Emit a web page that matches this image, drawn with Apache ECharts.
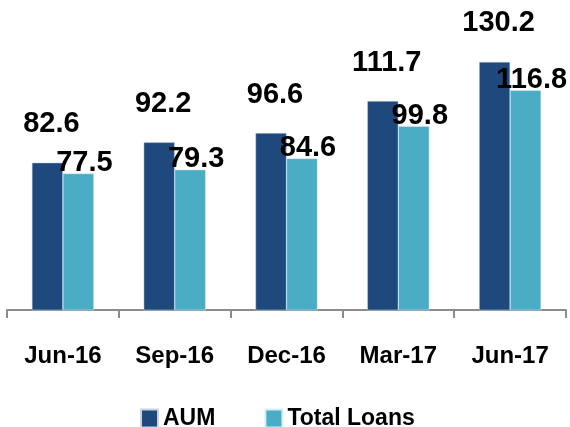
<!DOCTYPE html>
<html>
<head>
<meta charset="utf-8">
<script src="https://cdn.jsdelivr.net/npm/echarts@6/dist/echarts.min.js"></script>
<style>
  html, body { margin: 0; padding: 0; background: #fff; }
  #chart { width: 570px; height: 427px; }
</style>
</head>
<body>
<div id="chart"></div>
<script>
// quarters on the x axis
var categories = ["Jun-16", "Sep-16", "Dec-16", "Mar-17", "Jun-17"];
var aum = [82.6, 92.2, 96.6, 111.7, 130.2];
var totalLoans = [77.5, 79.3, 84.6, 99.8, 116.8];

var font = "'Liberation Sans', Arial, sans-serif";

var chart = echarts.init(document.getElementById("chart"));
var option = {
  animation: false,
  color: ["#1F497D", "#4BACC6"],
  textStyle: { fontFamily: font },
  grid: {
    left: 7,
    right: 4,
    top: 20,
    bottom: 117,
    containLabel: false
  },
  legend: {
    data: ["AUM", "Total Loans"],
    left: 135,
    top: 402,
    itemWidth: 17,
    itemHeight: 18,
    itemGap: 49,
    icon: "rect",
    textStyle: {
      fontFamily: font,
      fontSize: 23,
      fontWeight: "bold",
      color: "#000"
    }
  },
  xAxis: {
    type: "category",
    data: categories,
    axisLine: { lineStyle: { color: "#8c8c8c", width: 2 } },
    axisTick: {
      show: true,
      length: 8,
      lineStyle: { color: "#8c8c8c", width: 2 }
    },
    axisLabel: {
      interval: 0,
      margin: 34,
      fontFamily: font,
      fontSize: 24,
      fontWeight: "bold",
      color: "#000"
    }
  },
  yAxis: {
    type: "value",
    min: 13,
    max: 150,
    show: false,
    splitLine: { show: false }
  },
  series: [
    {
      name: "AUM",
      type: "bar",
      barWidth: 31,
      barGap: "0%",
      data: aum,
      itemStyle: { borderColor: "#c8d4e4", borderWidth: 0.5 },
      label: {
        show: true,
        position: "top",
        distance: 24,
        offset: [4, 0],
        fontFamily: font,
        fontSize: 29,
        fontWeight: "bold",
        color: "#000"
      }
    },
    {
      name: "Total Loans",
      type: "bar",
      barWidth: 31,
      data: totalLoans,
      itemStyle: { borderColor: "#d6eef4", borderWidth: 0.5 },
      label: {
        show: true,
        position: "top",
        distance: 0,
        offset: [6, 4],
        fontFamily: font,
        fontSize: 29,
        fontWeight: "bold",
        color: "#000"
      }
    }
  ]
};
chart.setOption(option);
</script>
</body>
</html>
